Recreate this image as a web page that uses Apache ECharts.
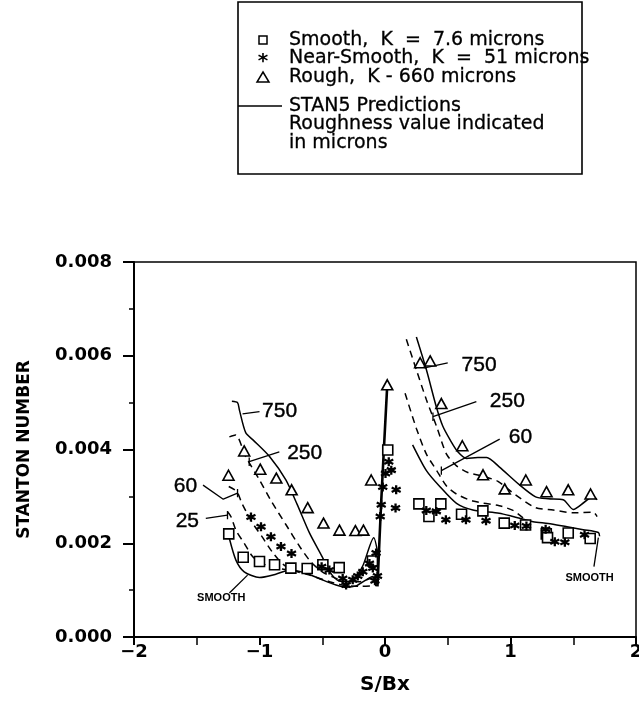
<!DOCTYPE html>
<html>
<head>
<meta charset="utf-8">
<script src="https://cdn.jsdelivr.net/npm/echarts@6/dist/echarts.min.js"></script>
<style>
  html, body { margin: 0; padding: 0; background: #fff; }
  #chart { width: 639px; height: 701px; }
</style>
</head>
<body>
<div id="chart"></div>
<script>
// ---- Measured Stanton numbers vs. S/Bx ----
const smoothPts = [
  [-1.245, 0.0022], [-1.13, 0.0017], [-1.0, 0.00161], [-0.88, 0.00154], [-0.75, 0.00147],
  [-0.62, 0.00146], [-0.495, 0.00154], [-0.365, 0.00148], [-0.1, 0.00162], [0.022, 0.00399],
  [0.27, 0.00284], [0.35, 0.00257], [0.445, 0.00284], [0.61, 0.00262], [0.78, 0.00269],
  [0.95, 0.00243], [1.12, 0.00239], [1.285, 0.0022], [1.295, 0.00212], [1.46, 0.00222], [1.635, 0.0021]
];
const nearSmoothPts = [
  [-1.068, 0.00256], [-0.988, 0.00235], [-0.909, 0.00214], [-0.829, 0.00193], [-0.745, 0.00178],
  [-0.505, 0.0015], [-0.443, 0.00143], [-0.337, 0.00125], [-0.31, 0.00111], [-0.257, 0.00122],
  [-0.217, 0.0013], [-0.177, 0.00139], [-0.124, 0.00157], [-0.097, 0.00147], [-0.071, 0.00179],
  [-0.08, 0.0012], [-0.06, 0.0013], [-0.038, 0.00257], [-0.03, 0.00282], [-0.018, 0.0032],
  [0.004, 0.00349], [0.03, 0.00374], [0.05, 0.00356], [0.089, 0.00314], [0.084, 0.00275],
  [0.329, 0.0027], [0.409, 0.00268], [0.485, 0.0025], [0.645, 0.0025], [0.805, 0.00248],
  [1.034, 0.00238], [1.127, 0.00237], [1.28, 0.0023], [1.353, 0.00203], [1.433, 0.00202], [1.59, 0.00218]
];
const roughPts = [
  [-1.247, 0.00345], [-1.122, 0.00397], [-0.994, 0.00358], [-0.866, 0.00339], [-0.744, 0.00314],
  [-0.616, 0.00276], [-0.49, 0.00243], [-0.363, 0.00228], [-0.236, 0.00227], [-0.172, 0.00228],
  [-0.11, 0.00335], [0.018, 0.00538],
  [0.28, 0.00585], [0.36, 0.00589], [0.449, 0.00498], [0.616, 0.00408], [0.781, 0.00346],
  [0.954, 0.00316], [1.122, 0.00335], [1.287, 0.0031], [1.46, 0.00314], [1.638, 0.00305]
];

// ---- STAN5 predictions (roughness in microns) ----
const pred750L = [
  [-1.22, 0.00503], [-1.175, 0.005], [-1.16, 0.00484], [-1.11, 0.00436], [-1.05, 0.0042],
  [-0.92, 0.00385], [-0.79, 0.00335], [-0.70, 0.00283], [-0.60, 0.00221], [-0.50, 0.00171],
  [-0.44, 0.00139], [-0.37, 0.0012], [-0.27, 0.00118], [-0.18, 0.0015], [-0.09, 0.00212], [-0.055, 0.00175]
];
const pred250L = [
  [-1.24, 0.00427], [-1.19, 0.00431], [-1.11, 0.00385], [-1.00, 0.00335], [-0.90, 0.00287],
  [-0.79, 0.0024], [-0.68, 0.00193], [-0.59, 0.0016], [-0.50, 0.00139], [-0.39, 0.00125],
  [-0.31, 0.00118], [-0.2, 0.00118], [-0.1, 0.00126], [-0.06, 0.00112]
];
const pred60L = [
  [-1.245, 0.00321], [-1.18, 0.0031], [-1.14, 0.00285], [-1.06, 0.00245], [-0.98, 0.00214],
  [-0.90, 0.00182], [-0.82, 0.00157], [-0.74, 0.00143], [-0.60, 0.00132], [-0.44, 0.00118],
  [-0.34, 0.00111], [-0.2, 0.00108], [-0.06, 0.0011]
];
const pred25L = [
  [-1.255, 0.00267], [-1.228, 0.00257], [-1.188, 0.00228], [-1.122, 0.002], [-1.05, 0.0017],
  [-0.96, 0.00155], [-0.87, 0.00147], [-0.76, 0.00143]
];
const predSmoothL = [
  [-1.24, 0.0021], [-1.188, 0.00164], [-1.122, 0.00139], [-1.0, 0.00127], [-0.87, 0.00134],
  [-0.76, 0.00143], [-0.63, 0.00136], [-0.5, 0.00122], [-0.39, 0.00111], [-0.31, 0.00106],
  [-0.23, 0.00109], [-0.15, 0.00122], [-0.1, 0.00129], [-0.06, 0.00111]
];
const predPeak = [[-0.06, 0.00108], [-0.03, 0.0029], [0.018, 0.00538]];
const pred750R = [
  [0.25, 0.0064], [0.33, 0.0057], [0.41, 0.0049], [0.46, 0.0045], [0.52, 0.0042], [0.58, 0.00395],
  [0.65, 0.00381], [0.74, 0.00383], [0.81, 0.00383], [0.91, 0.00363], [1.07, 0.00325], [1.2, 0.00299],
  [1.3, 0.00295], [1.42, 0.00293], [1.5, 0.00272], [1.59, 0.00288], [1.66, 0.003], [1.69, 0.00293]
];
const pred250R = [
  [0.17, 0.00635], [0.25, 0.0057], [0.33, 0.00506], [0.41, 0.0045], [0.49, 0.00390], [0.57, 0.00365],
  [0.66, 0.00351], [0.78, 0.00343], [0.9, 0.00332], [1.04, 0.00303], [1.2, 0.00276], [1.34, 0.00271],
  [1.5, 0.00265], [1.66, 0.00266], [1.69, 0.00257]
];
const pred60R = [
  [0.16, 0.0052], [0.25, 0.00445], [0.33, 0.0039], [0.41, 0.00356], [0.49, 0.00322], [0.57, 0.00305],
  [0.70, 0.0029], [0.91, 0.0028], [1.02, 0.0027], [1.1, 0.00254]
];
const predSmoothR = [
  [0.22, 0.0041], [0.33, 0.00355], [0.44, 0.0032], [0.57, 0.00285], [0.70, 0.00271], [0.91, 0.00264],
  [1.02, 0.00257], [1.18, 0.00246], [1.3, 0.00242], [1.45, 0.00235], [1.58, 0.00229], [1.70, 0.00223], [1.71, 0.00215]
];

// ---- Axis tick labels ----
const xTickValues = [-2, -1, 0, 1, 2];
const xTickLabels = ['\u22122', '\u22121', '0', '1', '2'];
const yTickValues = [0, 0.002, 0.004, 0.006, 0.008];
const yTickLabels = ['0.000', '0.002', '0.004', '0.006', '0.008'];

// ---- Curve call-outs: text, text anchor, leader polyline ----
const curveNotes = [
  { text: '750', at: [-0.84, 0.00481], leader: [[-1.135, 0.00476], [-1.0, 0.00481]] },
  { text: '250', at: [-0.64, 0.00392], leader: [[-1.082, 0.00374], [-0.842, 0.00395]], tick: 0 },
  { text: '60', at: [-1.59, 0.00321], leader: [[-1.45, 0.00324], [-1.289, 0.00294], [-1.175, 0.00307]], tick: 2 },
  { text: '25', at: [-1.575, 0.00246], leader: [[-1.428, 0.00253], [-1.255, 0.0026]], tick: 1 },
  { text: '750', at: [0.75, 0.0058], leader: [[0.5, 0.00585], [0.315, 0.00574]] },
  { text: '250', at: [0.975, 0.00502], leader: [[0.728, 0.00502], [0.382, 0.0047]], tick: 1 },
  { text: '60', at: [1.08, 0.00427], leader: [[0.914, 0.00422], [0.449, 0.00355]], tick: 1 }
];
const smoothNotes = [
  { text: 'SMOOTH', at: [-1.305, 0.00084], leader: [[-1.24, 0.00094], [-1.095, 0.00132]] },
  { text: 'SMOOTH', at: [1.63, 0.00127], leader: [[1.665, 0.0015], [1.70, 0.00212]] }
];

const INK = '#000';
const AXIS_FONT = 'DejaVu Sans';

function curve(data, dashed, width) {
  return {
    type: 'line', data, symbol: 'none', silent: true, smooth: 0.25,
    lineStyle: { color: INK, width: width || 1.5, type: dashed ? [7, 5] : 'solid' },
    z: 3
  };
}
function leader(points) {
  return {
    type: 'line', data: points, symbol: 'none', silent: true,
    lineStyle: { color: INK, width: 1.3 }, z: 4
  };
}
// short vertical stroke marking where a call-out leader meets its curve
function leaderTick(p) {
  return leader([[p[0], p[1] - 0.00009], [p[0], p[1] + 0.00009]]);
}

const asterisk = 'path://M0,-10L0,10M-8.66,-5L8.66,5M-8.66,5L8.66,-5';

const series = [
  curve(pred750L, false), curve(pred250L, true), curve(pred60L, true), curve(pred25L, true),
  curve(predSmoothL, false), curve(predPeak, false, 2.6),
  curve(pred750R, false), curve(pred250R, true), curve(pred60R, true), curve(predSmoothR, false),
  {
    name: 'Smooth', type: 'scatter', data: smoothPts, symbol: 'rect', symbolSize: 10,
    itemStyle: { color: '#fff', borderColor: INK, borderWidth: 1.6, opacity: 1 }, z: 6, silent: true
  },
  {
    name: 'Near-Smooth', type: 'scatter', data: nearSmoothPts, symbol: asterisk, symbolSize: 9,
    itemStyle: { color: INK, borderColor: INK, borderWidth: 2.3, opacity: 1 }, z: 6, silent: true
  },
  {
    name: 'Rough', type: 'scatter', data: roughPts, symbol: 'triangle', symbolSize: [11, 10],
    itemStyle: { color: '#fff', borderColor: INK, borderWidth: 1.6, opacity: 1 }, z: 6, silent: true
  }
];

curveNotes.forEach(n => {
  series.push(leader(n.leader));
  if (n.tick !== undefined) series.push(leaderTick(n.leader[n.tick]));
});
smoothNotes.forEach(n => series.push(leader(n.leader)));

function noteLabels(notes, font) {
  return {
    type: 'scatter', symbolSize: 0, silent: true, z: 7,
    itemStyle: { opacity: 1 },
    data: notes.map(n => ({ name: n.text, value: n.at })),
    label: Object.assign({
      show: true, position: [0, 0], align: 'center', verticalAlign: 'middle',
      formatter: '{b}', color: INK, textBorderWidth: 0
    }, font)
  };
}
series.push(noteLabels(curveNotes, { fontFamily: 'Liberation Sans', fontSize: 21,
  textBorderColor: INK, textBorderWidth: 0.4 }));
series.push(noteLabels(smoothNotes, { fontFamily: 'Liberation Sans Narrow, Liberation Sans',
  fontWeight: 'bold', fontSize: 11 }));

// ---- Legend box ----
const legendRows = [
  { mark: 'rect', text: 'Smooth,  K  =  7.6 microns' },
  { mark: 'star', text: 'Near-Smooth,  K  =  51 microns' },
  { mark: 'tri', text: 'Rough,  K - 660 microns' }
];
const legendNote = ['STAN5 Predictions', 'Roughness value indicated', 'in microns'];

const BOX = { x: 238, y: 2, w: 344, h: 172 };
const ROW0 = 40, ROW_STEP = 18.5, NOTE0 = 106;
const legendFont = '19px "DejaVu Sans"';
const graphic = [
  { type: 'rect', shape: { x: BOX.x, y: BOX.y, width: BOX.w, height: BOX.h },
    style: { fill: '#fff', stroke: INK, lineWidth: 1.6 }, z: 10 }
];
legendRows.forEach((r, i) => {
  const cy = ROW0 + i * ROW_STEP, cx = 263;
  if (r.mark === 'rect') {
    graphic.push({ type: 'rect', shape: { x: cx - 4, y: cy - 4, width: 8, height: 8 },
      style: { fill: '#fff', stroke: INK, lineWidth: 1.5 }, z: 11 });
  } else if (r.mark === 'star') {
    graphic.push({ type: 'text', x: cx, y: cy + 3, style: { text: '*', font: 'bold 20px "DejaVu Sans"',
      fill: INK, align: 'center', verticalAlign: 'middle' }, z: 11 });
  } else {
    graphic.push({ type: 'polygon', shape: { points: [[cx, cy - 5], [cx + 6, cy + 5], [cx - 6, cy + 5]] },
      style: { fill: '#fff', stroke: INK, lineWidth: 1.5 }, z: 11 });
  }
  graphic.push({ type: 'text', x: 289, y: cy, style: { text: r.text, font: legendFont, fill: INK,
    stroke: INK, lineWidth: 0.3, verticalAlign: 'middle' }, z: 11 });
});
graphic.push({ type: 'line', shape: { x1: BOX.x, y1: NOTE0, x2: 282, y2: NOTE0 },
  style: { stroke: INK, lineWidth: 1.4 }, z: 11 });
legendNote.forEach((t, i) => {
  graphic.push({ type: 'text', x: 289, y: NOTE0 + i * ROW_STEP, style: { text: t, font: legendFont,
    fill: INK, stroke: INK, lineWidth: 0.3, verticalAlign: 'middle' }, z: 11 });
});

const option = {
  animation: false,
  backgroundColor: '#fff',
  grid: { left: 134, right: 3, top: 262, bottom: 64, show: true, borderColor: INK, borderWidth: 1.5,
    backgroundColor: 'transparent', containLabel: false, outerBoundsMode: 'none' },
  xAxis: {
    type: 'value', min: -2, max: 2, interval: 1,
    name: 'S/Bx', nameLocation: 'middle', nameGap: 38,
    nameTextStyle: { fontFamily: AXIS_FONT, fontWeight: 'bold', fontSize: 20, color: INK },
    axisLine: { onZero: false, lineStyle: { color: INK, width: 2 } },
    axisTick: { show: true, length: 8, lineStyle: { color: INK, width: 2 } },
    minorTick: { show: true, splitNumber: 2, length: 8, lineStyle: { color: INK, width: 1.5 } },
    splitLine: { show: false },
    axisLabel: {
      fontFamily: AXIS_FONT, fontWeight: 'bold', fontSize: 18, color: INK, margin: 6,
      formatter: v => xTickLabels[xTickValues.indexOf(v)] ?? ''
    }
  },
  yAxis: {
    type: 'value', min: 0, max: 0.008, interval: 0.002,
    name: 'STANTON NUMBER', nameLocation: 'middle', nameGap: 101,
    nameTextStyle: { fontFamily: AXIS_FONT, fontWeight: 'bold', fontSize: 17, color: INK },
    axisLine: { onZero: false, lineStyle: { color: INK, width: 2 } },
    axisTick: { show: true, length: 11, lineStyle: { color: INK, width: 2 } },
    minorTick: { show: true, splitNumber: 2, length: 5, lineStyle: { color: INK, width: 1.5 } },
    splitLine: { show: false },
    axisLabel: {
      fontFamily: AXIS_FONT, fontWeight: 'bold', fontSize: 18, color: INK, margin: 22,
      formatter: v => {
        const i = yTickValues.findIndex(t => Math.abs(t - v) < 1e-9);
        return i >= 0 ? yTickLabels[i] : '';
      }
    }
  },
  series,
  graphic
};

const chart = echarts.init(document.getElementById('chart'), null, { renderer: 'canvas' });
chart.setOption(option);
</script>
</body>
</html>
